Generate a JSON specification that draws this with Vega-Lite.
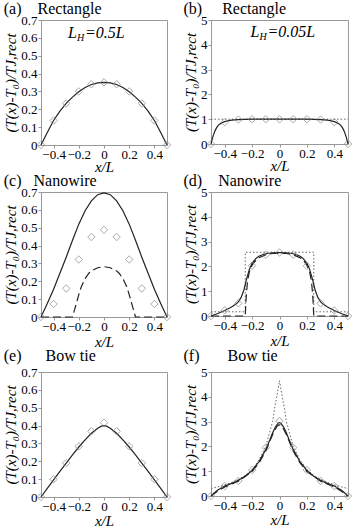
{
"$schema":"https://vega.github.io/schema/vega-lite/v6.json",
"padding":{"left":3,"top":0,"right":2,"bottom":0},
"background":"white",
"datasets":{
"a_s":[{"x":-0.5,"y":0},{"x":-0.45,"y":0.07},{"x":-0.4,"y":0.137},{"x":-0.35,"y":0.19},{"x":-0.3,"y":0.233},{"x":-0.25,"y":0.268},{"x":-0.2,"y":0.298},{"x":-0.15,"y":0.322},{"x":-0.1,"y":0.339},{"x":-0.05,"y":0.348},{"x":0,"y":0.351},{"x":0.05,"y":0.348},{"x":0.1,"y":0.339},{"x":0.15,"y":0.322},{"x":0.2,"y":0.298},{"x":0.25,"y":0.268},{"x":0.3,"y":0.233},{"x":0.35,"y":0.19},{"x":0.4,"y":0.137},{"x":0.45,"y":0.07},{"x":0.5,"y":0}],
"a_p":[{"x":-0.5,"y":0},{"x":-0.4,"y":0.137},{"x":-0.3,"y":0.233},{"x":-0.2,"y":0.3},{"x":-0.1,"y":0.34},{"x":0,"y":0.351},{"x":0.1,"y":0.34},{"x":0.2,"y":0.3},{"x":0.3,"y":0.233},{"x":0.4,"y":0.137},{"x":0.5,"y":0}],
"b_s":[{"x":-0.5,"y":0},{"x":-0.495,"y":0.12},{"x":-0.49,"y":0.23},{"x":-0.48,"y":0.4},{"x":-0.47,"y":0.54},{"x":-0.46,"y":0.65},{"x":-0.45,"y":0.73},{"x":-0.44,"y":0.79},{"x":-0.42,"y":0.86},{"x":-0.4,"y":0.9},{"x":-0.37,"y":0.94},{"x":-0.35,"y":0.96},{"x":-0.3,"y":0.985},{"x":-0.25,"y":0.995},{"x":-0.2,"y":1},{"x":0,"y":1},{"x":0.2,"y":1},{"x":0.25,"y":0.995},{"x":0.3,"y":0.985},{"x":0.35,"y":0.96},{"x":0.37,"y":0.94},{"x":0.4,"y":0.9},{"x":0.42,"y":0.86},{"x":0.44,"y":0.79},{"x":0.45,"y":0.73},{"x":0.46,"y":0.65},{"x":0.47,"y":0.54},{"x":0.48,"y":0.4},{"x":0.49,"y":0.23},{"x":0.495,"y":0.12},{"x":0.5,"y":0}],
"b_d":[{"x":-0.5,"y":1},{"x":0.5,"y":1}],
"b_p":[{"x":-0.5,"y":0},{"x":-0.4,"y":0.88},{"x":-0.3,"y":0.985},{"x":-0.2,"y":1},{"x":-0.1,"y":1},{"x":0,"y":1},{"x":0.1,"y":1},{"x":0.2,"y":1},{"x":0.3,"y":0.985},{"x":0.4,"y":0.88},{"x":0.5,"y":0}],
"c_s":[{"x":-0.5,"y":0},{"x":-0.45,"y":0.075},{"x":-0.4,"y":0.155},{"x":-0.35,"y":0.245},{"x":-0.3,"y":0.335},{"x":-0.25,"y":0.43},{"x":-0.2,"y":0.52},{"x":-0.15,"y":0.595},{"x":-0.1,"y":0.65},{"x":-0.05,"y":0.685},{"x":0,"y":0.695},{"x":0.05,"y":0.685},{"x":0.1,"y":0.65},{"x":0.15,"y":0.595},{"x":0.2,"y":0.52},{"x":0.25,"y":0.43},{"x":0.3,"y":0.335},{"x":0.35,"y":0.245},{"x":0.4,"y":0.155},{"x":0.45,"y":0.075},{"x":0.5,"y":0}],
"c_k":[{"x":-0.5,"y":0},{"x":-0.25,"y":0},{"x":-0.23,"y":0.05},{"x":-0.2,"y":0.125},{"x":-0.18,"y":0.17},{"x":-0.15,"y":0.215},{"x":-0.12,"y":0.245},{"x":-0.1,"y":0.258},{"x":-0.05,"y":0.276},{"x":0,"y":0.282},{"x":0.05,"y":0.276},{"x":0.1,"y":0.258},{"x":0.12,"y":0.245},{"x":0.15,"y":0.215},{"x":0.18,"y":0.17},{"x":0.2,"y":0.125},{"x":0.23,"y":0.05},{"x":0.25,"y":0},{"x":0.5,"y":0}],
"c_p":[{"x":-0.5,"y":0},{"x":-0.4,"y":0.073},{"x":-0.3,"y":0.16},{"x":-0.2,"y":0.322},{"x":-0.1,"y":0.448},{"x":0,"y":0.488},{"x":0.1,"y":0.448},{"x":0.2,"y":0.322},{"x":0.3,"y":0.16},{"x":0.4,"y":0.073},{"x":0.5,"y":0}],
"d_s":[{"x":-0.5,"y":0},{"x":-0.45,"y":0.1},{"x":-0.4,"y":0.22},{"x":-0.35,"y":0.36},{"x":-0.32,"y":0.47},{"x":-0.3,"y":0.57},{"x":-0.28,"y":0.75},{"x":-0.26,"y":1.05},{"x":-0.24,"y":1.5},{"x":-0.22,"y":1.88},{"x":-0.2,"y":2.13},{"x":-0.17,"y":2.33},{"x":-0.15,"y":2.41},{"x":-0.12,"y":2.48},{"x":-0.1,"y":2.51},{"x":-0.05,"y":2.55},{"x":0,"y":2.56},{"x":0.05,"y":2.55},{"x":0.1,"y":2.51},{"x":0.12,"y":2.48},{"x":0.15,"y":2.41},{"x":0.17,"y":2.33},{"x":0.2,"y":2.13},{"x":0.22,"y":1.88},{"x":0.24,"y":1.5},{"x":0.26,"y":1.05},{"x":0.28,"y":0.75},{"x":0.3,"y":0.57},{"x":0.32,"y":0.47},{"x":0.35,"y":0.36},{"x":0.4,"y":0.22},{"x":0.45,"y":0.1},{"x":0.5,"y":0}],
"d_k":[{"x":-0.5,"y":0},{"x":-0.25,"y":0},{"x":-0.245,"y":0.6},{"x":-0.24,"y":1.0},{"x":-0.235,"y":1.3},{"x":-0.23,"y":1.5},{"x":-0.22,"y":1.78},{"x":-0.2,"y":2.05},{"x":-0.18,"y":2.2},{"x":-0.15,"y":2.35},{"x":-0.1,"y":2.47},{"x":-0.05,"y":2.52},{"x":0,"y":2.53},{"x":0.05,"y":2.52},{"x":0.1,"y":2.47},{"x":0.15,"y":2.35},{"x":0.18,"y":2.2},{"x":0.2,"y":2.05},{"x":0.22,"y":1.78},{"x":0.23,"y":1.5},{"x":0.235,"y":1.3},{"x":0.24,"y":1.0},{"x":0.245,"y":0.6},{"x":0.25,"y":0},{"x":0.5,"y":0}],
"d_d":[{"i":1,"x":-0.5,"y":0.17},{"i":2,"x":-0.25,"y":0.17},{"i":3,"x":-0.25,"y":2.57},{"i":4,"x":0.25,"y":2.57},{"i":5,"x":0.25,"y":0.17},{"i":6,"x":0.5,"y":0.17}],
"d_p":[{"x":-0.5,"y":0},{"x":-0.4,"y":0.23},{"x":-0.3,"y":0.51},{"x":-0.2,"y":2.03},{"x":-0.1,"y":2.47},{"x":0,"y":2.56},{"x":0.1,"y":2.47},{"x":0.2,"y":2.02},{"x":0.3,"y":0.51},{"x":0.4,"y":0.22},{"x":0.5,"y":0}],
"e_s":[{"x":-0.5,"y":0},{"x":-0.45,"y":0.048},{"x":-0.4,"y":0.096},{"x":-0.35,"y":0.143},{"x":-0.3,"y":0.19},{"x":-0.25,"y":0.236},{"x":-0.2,"y":0.28},{"x":-0.15,"y":0.32},{"x":-0.1,"y":0.357},{"x":-0.05,"y":0.385},{"x":-0.02,"y":0.397},{"x":0,"y":0.4},{"x":0.02,"y":0.397},{"x":0.05,"y":0.385},{"x":0.1,"y":0.357},{"x":0.15,"y":0.32},{"x":0.2,"y":0.28},{"x":0.25,"y":0.236},{"x":0.3,"y":0.19},{"x":0.35,"y":0.143},{"x":0.4,"y":0.096},{"x":0.45,"y":0.048},{"x":0.5,"y":0}],
"e_p":[{"x":-0.5,"y":0},{"x":-0.4,"y":0.099},{"x":-0.3,"y":0.19},{"x":-0.2,"y":0.284},{"x":-0.1,"y":0.368},{"x":0,"y":0.416},{"x":0.1,"y":0.368},{"x":0.2,"y":0.284},{"x":0.3,"y":0.19},{"x":0.4,"y":0.099},{"x":0.5,"y":0}],
"f_s":[{"x":-0.5,"y":0},{"x":-0.47,"y":0.15},{"x":-0.45,"y":0.24},{"x":-0.4,"y":0.4},{"x":-0.35,"y":0.51},{"x":-0.3,"y":0.63},{"x":-0.25,"y":0.8},{"x":-0.2,"y":1.03},{"x":-0.15,"y":1.38},{"x":-0.1,"y":1.88},{"x":-0.07,"y":2.27},{"x":-0.05,"y":2.55},{"x":-0.03,"y":2.78},{"x":-0.01,"y":2.93},{"x":0,"y":2.96},{"x":0.01,"y":2.93},{"x":0.03,"y":2.78},{"x":0.05,"y":2.55},{"x":0.07,"y":2.27},{"x":0.1,"y":1.88},{"x":0.15,"y":1.38},{"x":0.2,"y":1.03},{"x":0.25,"y":0.8},{"x":0.3,"y":0.63},{"x":0.35,"y":0.51},{"x":0.4,"y":0.4},{"x":0.45,"y":0.24},{"x":0.47,"y":0.15},{"x":0.5,"y":0}],
"f_k":[{"x":-0.5,"y":0},{"x":-0.45,"y":0.2},{"x":-0.4,"y":0.36},{"x":-0.3,"y":0.6},{"x":-0.2,"y":0.99},{"x":-0.15,"y":1.33},{"x":-0.1,"y":1.82},{"x":-0.05,"y":2.48},{"x":-0.02,"y":2.8},{"x":0,"y":2.88},{"x":0.02,"y":2.8},{"x":0.05,"y":2.48},{"x":0.1,"y":1.82},{"x":0.15,"y":1.33},{"x":0.2,"y":0.99},{"x":0.3,"y":0.6},{"x":0.4,"y":0.36},{"x":0.45,"y":0.2},{"x":0.5,"y":0}],
"f_d":[{"x":-0.5,"y":0.3},{"x":-0.45,"y":0.37},{"x":-0.4,"y":0.45},{"x":-0.35,"y":0.55},{"x":-0.3,"y":0.67},{"x":-0.25,"y":0.83},{"x":-0.2,"y":1.07},{"x":-0.15,"y":1.45},{"x":-0.1,"y":2.0},{"x":-0.073,"y":2.55},{"x":-0.05,"y":3.0},{"x":-0.037,"y":3.5},{"x":-0.02,"y":4.0},{"x":0,"y":4.65},{"x":0.02,"y":4.0},{"x":0.037,"y":3.5},{"x":0.05,"y":3.0},{"x":0.073,"y":2.55},{"x":0.1,"y":2.0},{"x":0.15,"y":1.45},{"x":0.2,"y":1.07},{"x":0.25,"y":0.83},{"x":0.3,"y":0.67},{"x":0.35,"y":0.55},{"x":0.4,"y":0.45},{"x":0.45,"y":0.37},{"x":0.5,"y":0.3}],
"f_p":[{"x":-0.5,"y":0},{"x":-0.4,"y":0.4},{"x":-0.3,"y":0.61},{"x":-0.2,"y":1.05},{"x":-0.1,"y":1.95},{"x":0,"y":3.02},{"x":0.1,"y":1.95},{"x":0.2,"y":1.05},{"x":0.3,"y":0.61},{"x":0.4,"y":0.4},{"x":0.5,"y":0}],
"a_t":[{"x":0,"y":0.6}],
"b_t":[{"x":0,"y":4.31}]
},
"columns":2,
"spacing":{"row":-3,"column":9},
"concat":[
{"width":126,"height":125,
 "title":{"text":"(a)\u00a0\u00a0\u00a0\u00a0Rectangle","anchor":"start","offset":-3},
 "encoding":{
  "x":{"field":"x","type":"quantitative","scale":{"domain":[-0.5,0.5]},"axis":{"title":"x/L","values":[-0.4,-0.2,0,0.2,0.4],"format":"~g","labelPadding":0,"titlePadding":-2}},
  "y":{"field":"y","type":"quantitative","scale":{"domain":[0,0.7]},"axis":{"title":"(T(x)-T₀)/TJ,rect","values":[0,0.1,0.2,0.3,0.4,0.5,0.6,0.7],"format":"~g"}}},
 "layer":[
  {"data":{"name":"a_s"},"mark":{"type":"line","color":"#222","strokeWidth":1.2}},
  {"data":{"name":"a_p"},"mark":{"type":"point","shape":"diamond","filled":false,"color":"#888","size":55,"strokeWidth":1}},
  {"data":{"name":"a_t"},"mark":{"type":"text","text":"L","align":"left","dx":-36,"font":"Liberation Serif","fontStyle":"italic","fontSize":16,"baseline":"alphabetic"}},
  {"data":{"name":"a_t"},"mark":{"type":"text","text":"H","align":"left","dx":-27,"dy":3,"font":"Liberation Serif","fontStyle":"italic","fontSize":10,"baseline":"alphabetic"}},
  {"data":{"name":"a_t"},"mark":{"type":"text","text":"=0.5L","align":"left","dx":-19,"font":"Liberation Serif","fontStyle":"italic","fontSize":16,"baseline":"alphabetic"}}
 ]},
{"width":137,"height":124,
 "title":{"text":"(b)\u00a0\u00a0\u00a0\u00a0\u00a0Rectangle","anchor":"start","offset":-3},
 "encoding":{
  "x":{"field":"x","type":"quantitative","scale":{"domain":[-0.5,0.5]},"axis":{"title":"x/L","values":[-0.4,-0.2,0,0.2,0.4],"format":"~g","labelPadding":0,"titlePadding":-2}},
  "y":{"field":"y","type":"quantitative","scale":{"domain":[0,5]},"axis":{"title":"(T(x)-T₀)/TJ,rect","values":[0,1,2,3,4,5],"format":"~g"}}},
 "layer":[
  {"data":{"name":"b_d"},"mark":{"type":"line","color":"#666","strokeWidth":1,"strokeDash":[1.5,2]}},
  {"data":{"name":"b_s"},"mark":{"type":"line","color":"#222","strokeWidth":1.2}},
  {"data":{"name":"b_p"},"mark":{"type":"point","shape":"diamond","filled":false,"color":"#888","size":55,"strokeWidth":1}},
  {"data":{"name":"b_t"},"mark":{"type":"text","text":"L","align":"left","dx":-29,"font":"Liberation Serif","fontStyle":"italic","fontSize":16,"baseline":"alphabetic"}},
  {"data":{"name":"b_t"},"mark":{"type":"text","text":"H","align":"left","dx":-20,"dy":3,"font":"Liberation Serif","fontStyle":"italic","fontSize":10,"baseline":"alphabetic"}},
  {"data":{"name":"b_t"},"mark":{"type":"text","text":"=0.05L","align":"left","dx":-12,"font":"Liberation Serif","fontStyle":"italic","fontSize":16,"baseline":"alphabetic"}}
 ]},
{"width":126,"height":125,
 "title":{"text":"(c)\u00a0\u00a0\u00a0Nanowire","anchor":"start","offset":-3},
 "encoding":{
  "x":{"field":"x","type":"quantitative","scale":{"domain":[-0.5,0.5]},"axis":{"title":"x/L","values":[-0.4,-0.2,0,0.2,0.4],"format":"~g","labelPadding":0,"titlePadding":1}},
  "y":{"field":"y","type":"quantitative","scale":{"domain":[0,0.7]},"axis":{"title":"(T(x)-T₀)/TJ,rect","values":[0,0.1,0.2,0.3,0.4,0.5,0.6,0.7],"format":"~g"}}},
 "layer":[
  {"data":{"name":"c_k"},"mark":{"type":"line","color":"#222","strokeWidth":1.2,"strokeDash":[8,4]}},
  {"data":{"name":"c_s"},"mark":{"type":"line","color":"#222","strokeWidth":1.2}},
  {"data":{"name":"c_p"},"mark":{"type":"point","shape":"diamond","filled":false,"color":"#888","size":55,"strokeWidth":1}}
 ]},
{"width":137,"height":124,
 "title":{"text":"(d)\u00a0\u00a0\u00a0\u00a0Nanowire","anchor":"start","offset":-3},
 "encoding":{
  "x":{"field":"x","type":"quantitative","scale":{"domain":[-0.5,0.5]},"axis":{"title":"x/L","values":[-0.4,-0.2,0,0.2,0.4],"format":"~g","labelPadding":0,"titlePadding":1}},
  "y":{"field":"y","type":"quantitative","scale":{"domain":[0,5]},"axis":{"title":"(T(x)-T₀)/TJ,rect","values":[0,1,2,3,4,5],"format":"~g"}}},
 "layer":[
  {"data":{"name":"d_d"},"mark":{"type":"line","color":"#666","strokeWidth":1,"strokeDash":[1.5,2]},"encoding":{"order":{"field":"i","type":"quantitative"}}},
  {"data":{"name":"d_k"},"mark":{"type":"line","color":"#222","strokeWidth":1.2,"strokeDash":[8,4]}},
  {"data":{"name":"d_s"},"mark":{"type":"line","color":"#222","strokeWidth":1.2}},
  {"data":{"name":"d_p"},"mark":{"type":"point","shape":"diamond","filled":false,"color":"#888","size":55,"strokeWidth":1}}
 ]},
{"width":126,"height":125,
 "title":{"text":"(e)\u00a0\u00a0\u00a0\u00a0\u00a0\u00a0Bow tie","anchor":"start","offset":2},
 "encoding":{
  "x":{"field":"x","type":"quantitative","scale":{"domain":[-0.5,0.5]},"axis":{"title":"x/L","values":[-0.4,-0.2,0,0.2,0.4],"format":"~g","labelPadding":0,"titlePadding":0}},
  "y":{"field":"y","type":"quantitative","scale":{"domain":[0,0.7]},"axis":{"title":"(T(x)-T₀)/TJ,rect","values":[0,0.1,0.2,0.3,0.4,0.5,0.6,0.7],"format":"~g"}}},
 "layer":[
  {"data":{"name":"e_s"},"mark":{"type":"line","color":"#222","strokeWidth":1.2}},
  {"data":{"name":"e_p"},"mark":{"type":"point","shape":"diamond","filled":false,"color":"#888","size":55,"strokeWidth":1}}
 ]},
{"width":137,"height":124,
 "title":{"text":"(f)\u00a0\u00a0\u00a0\u00a0\u00a0\u00a0\u00a0Bow tie","anchor":"start","offset":2},
 "encoding":{
  "x":{"field":"x","type":"quantitative","scale":{"domain":[-0.5,0.5]},"axis":{"title":"x/L","values":[-0.4,-0.2,0,0.2,0.4],"format":"~g","labelPadding":0,"titlePadding":0}},
  "y":{"field":"y","type":"quantitative","scale":{"domain":[0,5]},"axis":{"title":"(T(x)-T₀)/TJ,rect","values":[0,1,2,3,4,5],"format":"~g"}}},
 "layer":[
  {"data":{"name":"f_d"},"mark":{"type":"line","color":"#666","strokeWidth":1,"strokeDash":[1.5,2]}},
  {"data":{"name":"f_k"},"mark":{"type":"line","color":"#222","strokeWidth":1.2,"strokeDash":[8,4]}},
  {"data":{"name":"f_s"},"mark":{"type":"line","color":"#222","strokeWidth":1.2}},
  {"data":{"name":"f_p"},"mark":{"type":"point","shape":"diamond","filled":false,"color":"#888","size":55,"strokeWidth":1}}
 ]}
],
"config":{
 "font":"Liberation Serif",
 "view":{"stroke":"#999","strokeWidth":1},
 "axis":{"grid":false,"domainColor":"#999","tickColor":"#999","tickSize":3,"labelFont":"Liberation Serif","labelFontSize":13,"labelColor":"#000","labelPadding":1,"titleFont":"Liberation Serif","titleFontSize":15,"titleFontStyle":"italic","titleFontWeight":"normal","titleColor":"#000","titlePadding":2},
 "title":{"font":"Liberation Serif","fontSize":16,"fontWeight":"normal","color":"#000"}
}
}
